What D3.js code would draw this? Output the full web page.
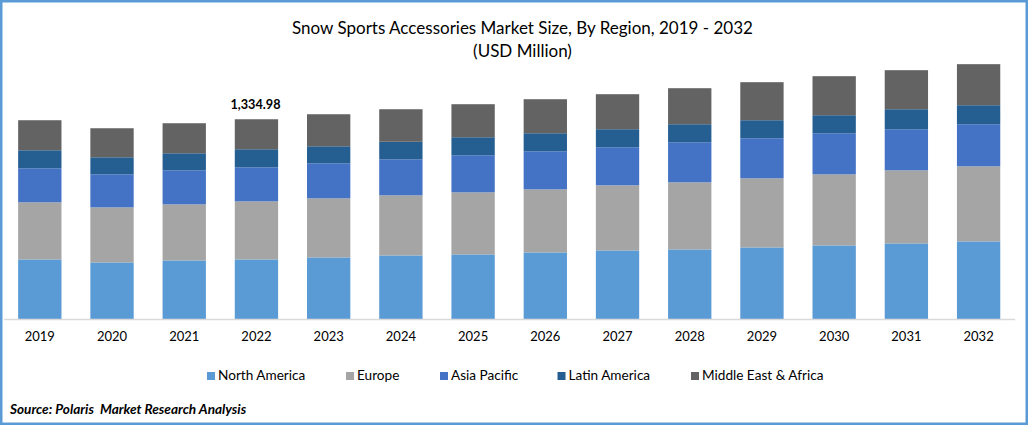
<!DOCTYPE html>
<html>
<head>
<meta charset="utf-8">
<script src="https://cdn.jsdelivr.net/npm/d3@7"></script>
<style>
  html, body { margin: 0; padding: 0; background: #fff; }
  svg { display: block; }
  text { font-family: Lato, "Open Sans", sans-serif; fill: #000; }
</style>
</head>
<body>
<div id="chart"></div>
<script>
// values, USD million
var years = ["2019","2020","2021","2022","2023","2024","2025","2026","2027","2028","2029","2030","2031","2032"];
var regions = ["North America","Europe","Asia Pacific","Latin America","Middle East & Africa"];
var northAmerica = [400.5,380.5,393.8,400.5,413.9,427.2,433.9,447.2,460.6,467.3,480.6,494,507.3,520.7];
var europe = [380.5,367.1,373.8,387.2,393.8,400.5,413.9,420.5,433.9,447.2,460.6,473.9,487.3,500.6];
var asiaPacific = [227,220.3,227,227,233.6,240.3,247,253.7,253.7,267,267,273.7,273.7,280.4];
var latinAmerica = [120.2,113.5,113.5,120.2,113.5,116.8,120.2,120.2,120.2,120.2,120.2,120.2,133.5,126.8];
var middleEast = [200.3,193.6,200.3,200.08,213.6,217,220.3,227,233.6,240.3,253.7,260.3,260.3,273.7];
var labelYear = "2022";
var labelText = "1,334.98";

var width = 1028, height = 425;
var colors = ["#5b9bd5","#a5a5a5","#4472c4","#255e91","#636363"];

var svg = d3.select("#chart").append("svg")
    .attr("width", width)
    .attr("height", height);

// blue frame round the picture
svg.append("rect")
    .attr("x", 1.25).attr("y", 1.25)
    .attr("width", width - 2.5).attr("height", height - 2.5)
    .attr("fill", "white")
    .attr("stroke", "#5b9bd5")
    .attr("stroke-width", 2.5);

var x = d3.scaleBand()
    .domain(years)
    .range([3.7, 1014.7])
    .paddingInner(0.4)
    .paddingOuter(0.2);

var y = d3.scaleLinear()
    .domain([0, 2000])
    .range([319.5, 19.5]);

var rows = years.map(function(d, i) {
    return {
        year: d,
        "North America": northAmerica[i],
        "Europe": europe[i],
        "Asia Pacific": asiaPacific[i],
        "Latin America": latinAmerica[i],
        "Middle East & Africa": middleEast[i]
    };
});

var stacked = d3.stack().keys(regions)(rows);

var color = d3.scaleOrdinal()
    .domain(regions)
    .range(colors);

svg.append("g").selectAll("g")
    .data(stacked)
    .enter().append("g")
    .attr("fill", function(d) { return color(d.key); })
  .selectAll("rect")
    .data(function(d) { return d; })
    .enter().append("rect")
    .attr("x", function(d) { return x(d.data.year); })
    .attr("y", function(d) { return y(d[1]); })
    .attr("width", x.bandwidth())
    .attr("height", function(d) { return y(d[0]) - y(d[1]); });

var axis = svg.append("g")
    .attr("transform", "translate(0,319)")
    .call(d3.axisBottom(x).tickSize(0).tickPadding(13));
axis.select(".domain").attr("stroke", "#d9d9d9").attr("stroke-width", 1.5);
axis.selectAll("text")
    .attr("font-size", "13px")
    .style("font-family", "Lato, sans-serif");

// only one total is printed on the chart
var top2022 = stacked[stacked.length - 1][years.indexOf(labelYear)][1];
svg.append("text")
    .attr("x", x(labelYear) + x.bandwidth() / 2 - 1)
    .attr("y", y(top2022) - 10.5)
    .attr("text-anchor", "middle")
    .attr("font-size", "12.7px")
    .attr("font-weight", "bold")
    .text(labelText);

svg.append("text")
    .attr("x", 522.5).attr("y", 34)
    .attr("text-anchor", "middle")
    .attr("font-size", "17px")
    .text("Snow Sports Accessories Market Size, By Region, 2019 - 2032");
svg.append("text")
    .attr("x", 522.5).attr("y", 57)
    .attr("text-anchor", "middle")
    .attr("font-size", "17px")
    .text("(USD Million)");

var legendX = [207, 346, 440, 557.5, 691];
var legend = svg.append("g").selectAll("g")
    .data(regions)
    .enter().append("g")
    .attr("transform", function(d, i) { return "translate(" + legendX[i] + ",372)"; });
legend.append("rect")
    .attr("width", 8).attr("height", 8)
    .attr("fill", function(d) { return color(d); });
legend.append("text")
    .attr("x", 11).attr("y", 8)
    .attr("font-size", "13.6px")
    .text(function(d) { return d; });

svg.append("text")
    .attr("x", 10).attr("y", 414)
    .attr("font-size", "13.6px")
    .attr("font-weight", "bold")
    .attr("font-style", "italic")
    .attr("xml:space", "preserve")
    .text("Source: Polaris  Market Research Analysis");
</script>
</body>
</html>
